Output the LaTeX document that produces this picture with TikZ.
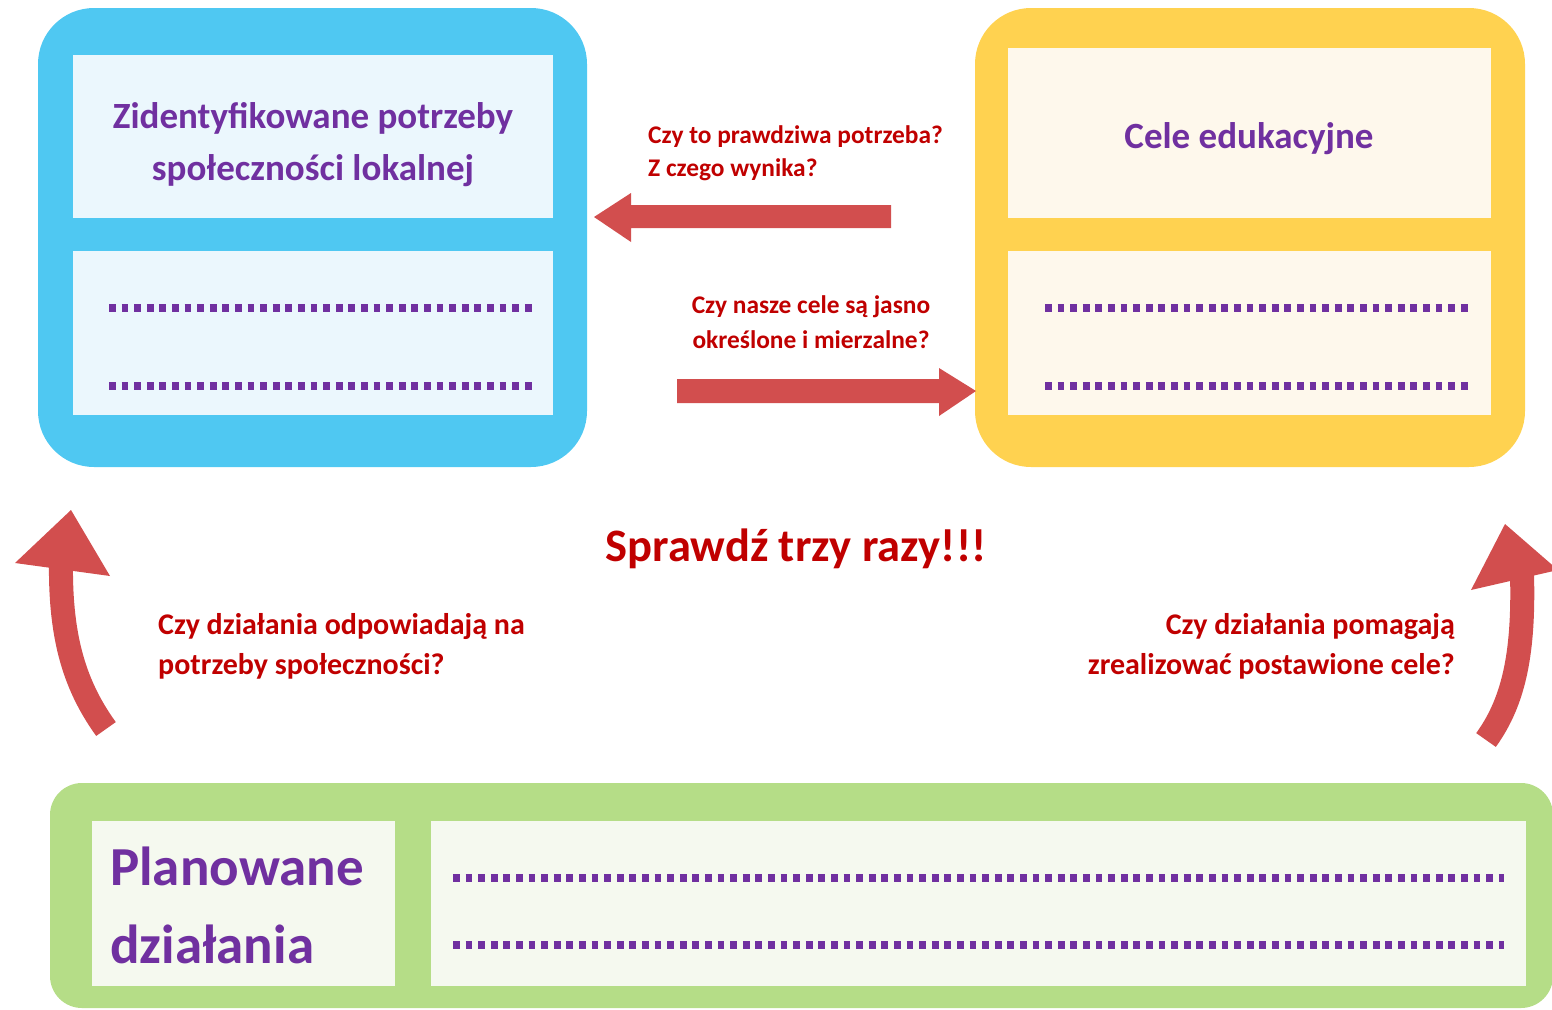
\documentclass[tikz,border=0pt]{standalone}
\usepackage{fontspec}
\setmainfont{Carlito}
\definecolor{boxblue}{HTML}{4FC8F2}
\definecolor{paleblue}{HTML}{EBF7FD}
\definecolor{boxyellow}{HTML}{FFD250}
\definecolor{paleyellow}{HTML}{FEF8EC}
\definecolor{boxgreen}{HTML}{B5DD87}
\definecolor{palegreen}{HTML}{F5F9EF}
\definecolor{txtpurple}{HTML}{7030A0}
\definecolor{txtred}{HTML}{C00000}
\definecolor{arrowred}{HTML}{D24E4E}
\tikzset{
  panel/.style={inner sep=0pt, outer sep=0pt, anchor=north west},
  dotline/.style={draw=txtpurple, line width=8pt, dash pattern=on 6.8pt off 5.8pt},
  heading/.style={text=txtpurple, font=\fontsize{37}{52}\selectfont\bfseries, align=center, inner sep=0pt},
  question/.style={text=txtred, inner sep=0pt},
  blockarrow/.style={fill=arrowred, draw=none},
  curveshaft/.style={draw=arrowred, line width=24pt},
}
\begin{document}
\begin{tikzpicture}[x=1pt,y=-1pt]
\useasboundingbox (0,0) rectangle (1552,1009);
\clip (0,0) rectangle (1552,1009);
% ---------- blue box ----------
\fill[boxblue, rounded corners=56pt] (38,8) rectangle (587,467);
\fill[paleblue] (73,55) rectangle (553,218);
\fill[paleblue] (73,251) rectangle (553,415);
\node[heading] (needs) at (313,145) {Zidentyfikowane potrzeby\\społeczności lokalnej};
\coordinate (bd1a) at (109,308); \coordinate (bd1b) at (534,308);
\coordinate (bd2a) at (109,386); \coordinate (bd2b) at (534,386);
\draw[dotline] (bd1a) -- (bd1b);
\draw[dotline] (bd2a) -- (bd2b);
% ---------- yellow box ----------
\fill[boxyellow, rounded corners=56pt] (975,8) rectangle (1525,467);
\fill[paleyellow] (1008,48) rectangle (1491,218);
\fill[paleyellow] (1008,251) rectangle (1491,415);
\node[heading] (goals) at (1249,139) {Cele edukacyjne};
\coordinate (yd1a) at (1045,308); \coordinate (yd1b) at (1470,308);
\coordinate (yd2a) at (1045,386); \coordinate (yd2b) at (1470,386);
\draw[dotline] (yd1a) -- (yd1b);
\draw[dotline] (yd2a) -- (yd2b);
% ---------- green box ----------
\fill[boxgreen, rounded corners=32pt] (50,783) rectangle (1553,1008);
\fill[palegreen] (92,821) rectangle (395,986);
\fill[palegreen] (431,821) rectangle (1526,986);
\node[text=txtpurple, font=\fontsize{55}{78}\selectfont\bfseries, align=left, inner sep=0pt, anchor=west] (actions) at (110,905) {Planowane\\działania};
\coordinate (gd1a) at (453,878); \coordinate (gd1b) at (1504,878);
\coordinate (gd2a) at (453,945); \coordinate (gd2b) at (1504,945);
\draw[dotline] (gd1a) -- (gd1b);
\draw[dotline] (gd2a) -- (gd2b);
% ---------- straight arrows ----------
\fill[blockarrow] (891,205) -- (631,205) -- (631,193) -- (594,217) -- (631,242) -- (631,228) -- (891,228) -- cycle;
\fill[blockarrow] (677,379) -- (939,379) -- (939,368) -- (976,391) -- (939,416) -- (939,403) -- (677,403) -- cycle;
\node[question, font=\fontsize{25.4}{33}\selectfont\bfseries, align=left, anchor=west] (q1) at (648,153.5) {Czy to prawdziwa potrzeba?\\Z czego wynika?};
\node[question, font=\fontsize{25.4}{35}\selectfont\bfseries, align=center] (q2) at (811,322.5) {Czy nasze cele są jasno\\określone i mierzalne?};
% ---------- title ----------
\node[question, font=\fontsize{46.5}{54}\selectfont\bfseries] (title) at (796,549) {Sprawdź trzy razy!!!};
% ---------- curved arrows ----------
\draw[curveshaft] (106,729) .. controls (72,682) and (60,632) .. (61,560);
\fill[blockarrow] (15,563) -- (71,510) -- (110,576) -- cycle;
\draw[curveshaft] (1486,740) .. controls (1515,700) and (1524,650) .. (1522,574);
\fill[blockarrow] (1471,590) -- (1505,524) -- (1558,570) -- cycle;
\node[question, font=\fontsize{30}{40}\selectfont\bfseries, align=left, anchor=west] (q3) at (158,646) {Czy działania odpowiadają na\\potrzeby społeczności?};
\node[question, font=\fontsize{30}{40}\selectfont\bfseries, align=right, anchor=east] (q4) at (1455,646) {Czy działania pomagają\\zrealizować postawione cele?};
\end{tikzpicture}
\end{document}
